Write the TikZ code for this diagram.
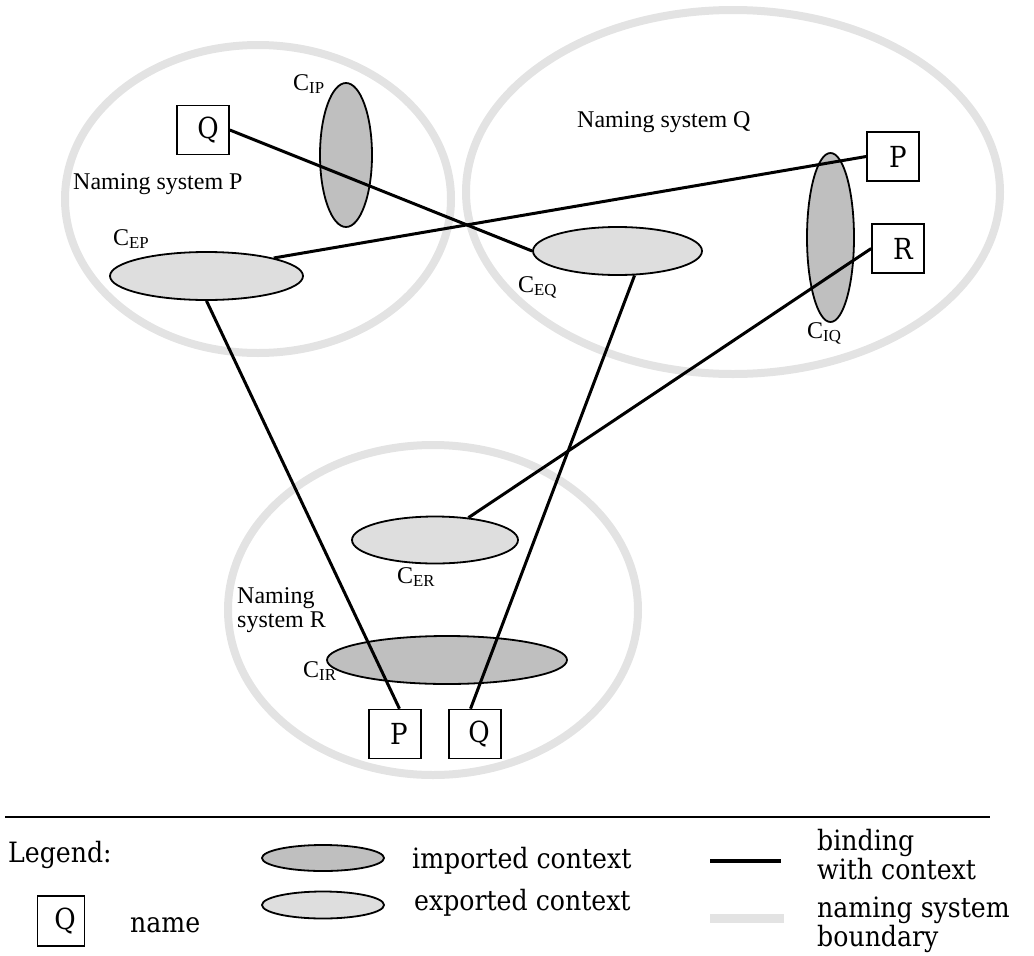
\documentclass[tikz,border=0pt]{standalone}
\usepackage{fontspec}
\newfontfamily\labelfont{Liberation Serif}
\newfontfamily\keyfont{DejaVu Serif Condensed}
\usetikzlibrary{shapes.geometric}
\definecolor{bound}{gray}{0.89}
\definecolor{impfill}{gray}{0.75}
\definecolor{expfill}{gray}{0.87}
\newcommand{\ctxname}[1]{C\textsubscript{#1}}
\begin{document}
\begin{tikzpicture}[x=1pt,y=-1pt,
  boundary/.style={draw=bound,line width=8pt,ellipse,inner sep=0pt},
  imported/.style={draw=black,fill=impfill,line width=1.8pt,ellipse,inner sep=0pt},
  exported/.style={draw=black,fill=expfill,line width=1.8pt,ellipse,inner sep=0pt},
  namebox/.style={draw=black,fill=white,line width=1.6pt,inner sep=0pt,
    minimum width=52pt,minimum height=49pt,font=\keyfont\fontsize{29}{30}\selectfont},
  binding/.style={line width=3pt},
  lbl/.style={font=\labelfont\fontsize{24}{26}\selectfont,inner sep=0pt,anchor=base west},
  legtext/.style={font=\keyfont\fontsize{28}{24}\selectfont,inner sep=0pt,anchor=base west,align=left},
]
\useasboundingbox (0,0) rectangle (1034,956);

% naming system boundaries
\node[boundary,minimum width=386pt,minimum height=308pt] (nsP) at (258,199) {};
\node[boundary,minimum width=534pt,minimum height=364pt] (nsQ) at (733,192) {};
\node[boundary,minimum width=410pt,minimum height=330pt] (nsR) at (433,610) {};

% contexts
\node[imported,minimum width=52pt,minimum height=144pt] (cIP) at (346,155) {};
\node[exported,minimum width=193pt,minimum height=48pt] (cEP) at (206.5,276) {};
\node[exported,minimum width=169pt,minimum height=48pt] (cEQ) at (617.5,251) {};
\node[imported,minimum width=47pt,minimum height=169pt] (cIQ) at (830.5,237.5) {};
\node[exported,minimum width=166pt,minimum height=47pt] (cER) at (435,540) {};
\node[imported,minimum width=240pt,minimum height=48pt] (cIR) at (447,660) {};

% names
\node[namebox] (qP) at (203,130) {\hspace*{10pt}Q};
\node[namebox] (pQ) at (893,156.5) {\hspace*{10pt}P};
\node[namebox] (rQ) at (898,248.5) {\hspace*{10pt}R};
\node[namebox] (pR) at (395,734) {\hspace*{8pt}P};
\node[namebox] (qR) at (475,734) {\hspace*{8pt}Q};

% bindings
\draw[binding] (qP.east) -- (cEQ.west);
\draw[binding] (cEP.15) -- (pQ.west);
\draw[binding] (cEP.south) -- (pR.80);
\draw[binding] (cEQ.-55) -- (qR.100);
\draw[binding] (rQ.west) -- (cER);

% labels
\node[lbl] (lIP) at (293,90) {\ctxname{IP}};
\node[lbl] (lEP) at (113,245) {\ctxname{EP}};
\node[lbl] (lEQ) at (518,292) {\ctxname{EQ}};
\node[lbl] (lIQ) at (807,338) {\ctxname{IQ}};
\node[lbl] (lER) at (397,583) {\ctxname{ER}};
\node[lbl] (lIR) at (303,677) {\ctxname{IR}};
\node[lbl] (tP) at (73,189) {Naming system P};
\node[lbl] (tQ) at (577,127) {Naming system Q};
\node[lbl] (tR1) at (237,603) {Naming};
\node[lbl] (tR2) at (237,627) {system R};

% legend
\coordinate (ruleL) at (5,817);
\coordinate (ruleR) at (990,817);
\draw[line width=1.3pt] (ruleL) -- (ruleR);
\node[legtext] (legend) at (8,862) {Legend:};
\node[imported,minimum width=122pt,minimum height=26pt] (kImp) at (323,858) {};
\node[exported,minimum width=122pt,minimum height=27pt] (kExp) at (323,905) {};
\node[legtext] (tImp) at (412,868) {imported context};
\node[legtext] (tExp) at (414,910) {exported context};
\node[namebox,minimum width=47pt,minimum height=50pt] (kName) at (61,921) {\hspace*{8pt}Q};
\node[legtext] (tName) at (130,932) {name};
\coordinate (kBindL) at (710,861);
\coordinate (kBindR) at (781,861);
\draw[line width=3.5pt] (kBindL) -- (kBindR);
\coordinate (kBoundL) at (710,918);
\coordinate (kBoundR) at (784,918);
\draw[draw=bound,line width=9pt] (kBoundL) -- (kBoundR);
\node[legtext] (tBind) at (817,879) {binding\\with context};
\node[legtext] (tBound) at (817,946) {naming system\\boundary};
\end{tikzpicture}
\end{document}
